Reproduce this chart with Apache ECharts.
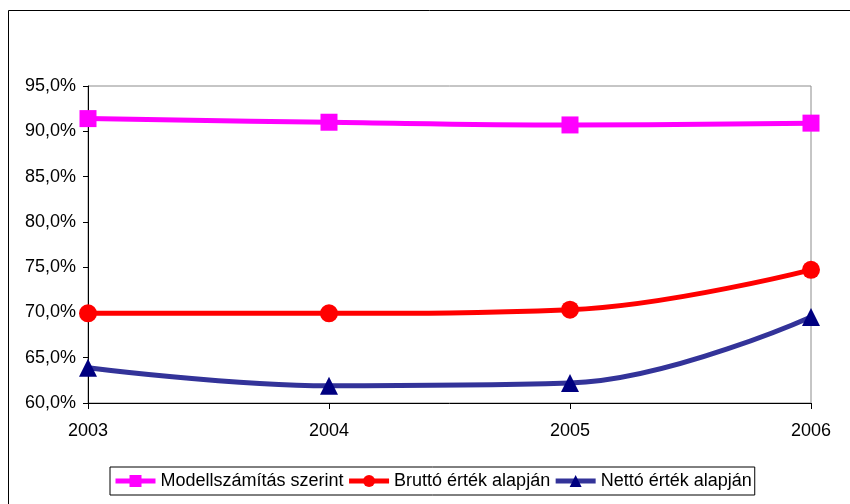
<!DOCTYPE html>
<html>
<head>
<meta charset="utf-8">
<script src="https://cdn.jsdelivr.net/npm/echarts@6/dist/echarts.min.js"></script>
<style>
  html, body { margin: 0; padding: 0; background: #fff; }
  #chart { width: 850px; height: 504px; }
</style>
</head>
<body>
<div id="chart"></div>
<script>
// Years on the x axis
const years = ['2003', '2004', '2005', '2006'];

// Ratios in percent
const modellSzamitas = [91.4, 91.0, 90.7, 90.9];
const bruttoErtek = [69.9, 69.9, 70.3, 74.7];
const nettoErtek = [63.9, 61.9, 62.2, 69.5];

// Series names shown in the legend
const seriesNames = ['Modellszámítás szerint', 'Bruttó érték alapján', 'Nettó érték alapján'];

const fmt = v => v.toFixed(1).replace('.', ',') + '%';

const chart = echarts.init(document.getElementById('chart'), null, { renderer: 'canvas' });

const font = 'Liberation Sans, Arial, sans-serif';

chart.setOption({
  animation: false,
  backgroundColor: '#fff',
  graphic: [{
    // chart area frame (left and top edges fall inside the canvas)
    type: 'polyline',
    shape: { points: [[8.5, 520], [8.5, 10.5], [860, 10.5]] },
    style: { fill: 'none', stroke: '#000', lineWidth: 1 },
    silent: true,
    z: -1
  }],
  grid: {
    left: 88, right: 39, top: 86, bottom: 101,
    show: true,
    borderColor: '#8c8c8c',
    borderWidth: 1
  },
  legend: {
    left: 110, top: 467,
    data: seriesNames,
    itemWidth: 40, itemHeight: 15,
    itemGap: 3,
    padding: [5, 3, 5, 3],
    borderColor: '#000',
    borderWidth: 1,
    lineStyle: { width: 5 },
    textStyle: { fontFamily: font, fontSize: 18, color: '#000' }
  },
  xAxis: {
    type: 'category',
    data: years,
    boundaryGap: false,
    axisLine: { lineStyle: { color: '#000', width: 1 } },
    axisTick: { show: true, alignWithLabel: true, length: 6, lineStyle: { color: '#000' } },
    axisLabel: { fontFamily: font, fontSize: 18, color: '#000', margin: 19 },
    splitLine: { show: false }
  },
  yAxis: {
    type: 'value',
    min: 60, max: 95, interval: 5,
    axisLine: { show: true, lineStyle: { color: '#000', width: 1 } },
    axisTick: { show: true, length: 5, lineStyle: { color: '#000' } },
    axisLabel: { fontFamily: font, fontSize: 18, color: '#000', margin: 12, formatter: fmt },
    splitLine: { show: false }
  },
  series: [
    {
      name: seriesNames[0],
      type: 'line',
      data: modellSzamitas,
      smooth: 0.4,
      symbol: 'rect',
      symbolSize: 17,
      lineStyle: { color: '#ff00ff', width: 5 },
      itemStyle: { color: '#ff00ff' }
    },
    {
      name: seriesNames[1],
      type: 'line',
      data: bruttoErtek,
      smooth: 0.4,
      symbol: 'circle',
      symbolSize: 18,
      lineStyle: { color: '#ff0000', width: 5 },
      itemStyle: { color: '#ff0000' }
    },
    {
      name: seriesNames[2],
      type: 'line',
      data: nettoErtek,
      smooth: 0.4,
      symbol: 'triangle',
      symbolSize: 18,
      lineStyle: { color: '#333399', width: 5 },
      itemStyle: { color: '#000080' }
    }
  ]
});
</script>
</body>
</html>
